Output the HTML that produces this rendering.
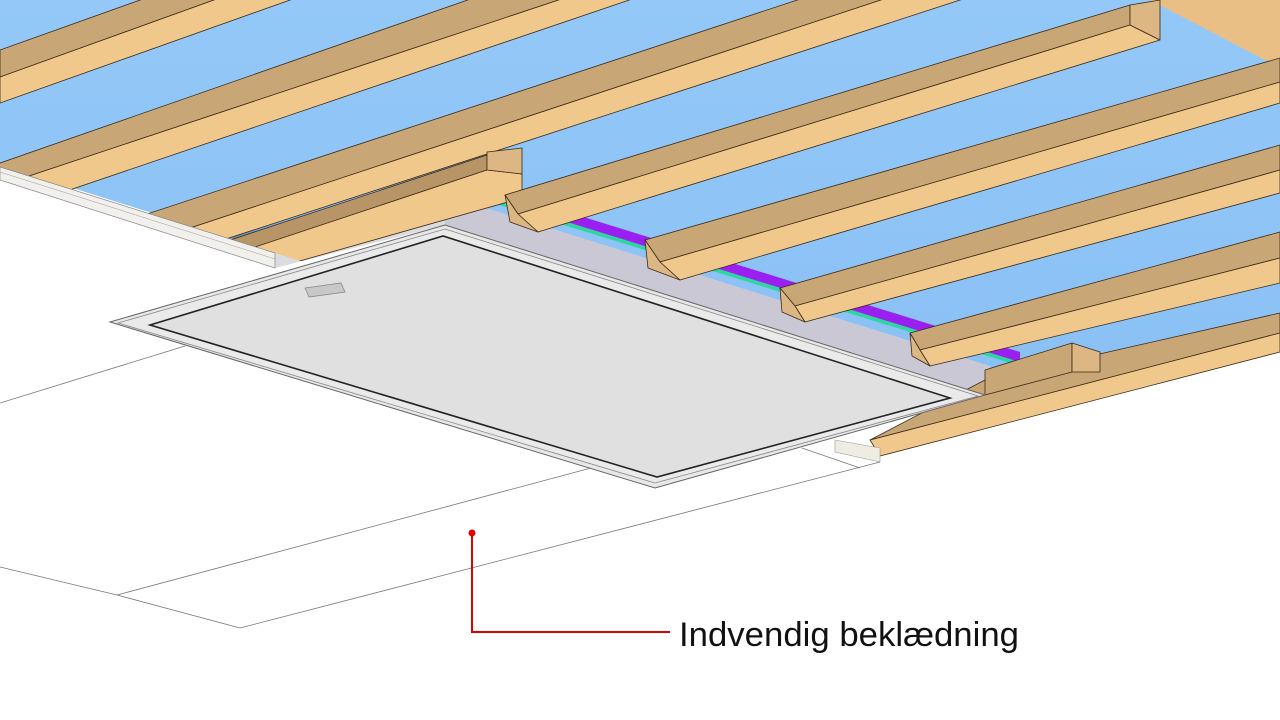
<!DOCTYPE html>
<html><head><meta charset="utf-8"><style>
html,body{margin:0;padding:0;background:#fff;width:1280px;height:720px;overflow:hidden}
svg{display:block}
</style></head><body>
<svg width="1280" height="720" viewBox="0 0 1280 720" xmlns="http://www.w3.org/2000/svg">
<defs>
<linearGradient id="bl" x1="0" y1="0" x2="0" y2="1"><stop offset="0" stop-color="#93c8f8"/><stop offset="1" stop-color="#88bff4"/></linearGradient>
<linearGradient id="sh" x1="0" y1="1" x2="0.3" y2="0"><stop offset="0" stop-color="#2a4f80" stop-opacity="0.8"/><stop offset="1" stop-color="#88bff4" stop-opacity="0"/></linearGradient>
<clipPath id="cl"><polygon points="0,-10 1300,-10 1300,574 0,167"/></clipPath>
</defs>
<!-- ceiling blue -->
<polygon points="0,0 1280,0 1280,352 880,456 985,398 445,200 275,252 0,165" fill="url(#bl)"/>
<!-- shadow near left wall -->
<polygon points="150,215 275,252 445,200 330,185" fill="url(#sh)"/>
<!-- purple strip & teal -->
<polygon points="470,182 1020,352 1020,364 470,194" fill="#9b1ff0"/>
<polygon points="470,192 1020,362 1020,366 470,196" fill="#2fd6a0"/>
<!-- opening walls -->
<polygon points="445,195 990,366 985,400 445,225" fill="#cac8d4"/>
<polygon points="275,250 445,197 445,225 275,268" fill="#dcdbe0"/>
<!-- top-right wall block -->
<polygon points="1150,0 1280,0 1280,65 1265,60" fill="#e9bf86"/>
<g stroke="#3a2a1a" stroke-width="0.8" stroke-linejoin="round">
<g clip-path="url(#cl)">
<!-- A -->
<polygon points="0,50 300,-57 300,-31 0,77" fill="#c9a676"/>
<polygon points="0,77 300,-31 300,-3.5 0,103" fill="#f1c88b"/>
<!-- B -->
<polygon points="-10,166.5 700,-81 700,-47 -10,189" fill="#c9a676"/>
<polygon points="-10,189 700,-47 700,-24 -10,217" fill="#f1c88b"/>
<!-- C -->
<polygon points="100,229.5 1000,-66.7 1000,-39.3 100,257.7" fill="#c9a676"/>
<polygon points="100,257.7 1000,-39.3 1000,-13 100,280" fill="#f1c88b"/>
<!-- notch piece -->
<polygon points="200,250 487,155 487,170 210,262" fill="#b89566"/>
<polygon points="210,262 487,170 522,174 522,198 275,268" fill="#f1c88b"/>
<polygon points="487,152 522,148 522,174 487,170" fill="#dcb784"/>
</g>
<!-- R1 -->
<polygon points="505,195 1130,5 1130,25 518,214" fill="#c9a676"/>
<polygon points="518,214 1130,25 1160,40 538,232" fill="#f1c88b"/>
<polygon points="1130,5 1160,0 1160,40 1130,25" fill="#dcb784"/>
<polygon points="505,195 518,214 538,232 510,222" fill="#dcb784"/>
<!-- R2 -->
<polygon points="645,240 1280,58 1280,82 660,262" fill="#c9a676"/>
<polygon points="660,262 1280,82 1280,103 680,280" fill="#f1c88b"/>
<polygon points="645,240 660,262 680,280 648,268" fill="#dcb784"/>
<!-- R3 -->
<polygon points="780,288 1280,145 1280,170 795,306" fill="#c9a676"/>
<polygon points="795,306 1280,170 1280,193 805,322" fill="#f1c88b"/>
<polygon points="780,288 795,306 805,322 782,312" fill="#dcb784"/>
<!-- R4 -->
<polygon points="910,333 1280,232 1280,258 920,350" fill="#c9a676"/>
<polygon points="920,350 1280,258 1280,283 930,366" fill="#f1c88b"/>
<polygon points="910,333 920,350 930,366 912,356" fill="#dcb784"/>
<!-- bottom long batten -->
<polygon points="985,380 1280,313 1280,333 870,440" fill="#c9a676"/>
<polygon points="870,440 1280,333 1280,352 880,456" fill="#f1c88b"/>
<!-- short piece -->
<polygon points="985,370 1072,343 1072,372 985,395" fill="#c9a676"/>
<polygon points="1072,343 1100,352 1100,372 1072,372" fill="#dcb784"/>
</g>
<!-- small end block near right -->
<polygon points="835,440 880,448 880,462 835,452" fill="#efece4" stroke="#999" stroke-width="0.6"/>
<!-- left ceiling board edge -->
<polygon points="0,167 275,253 275,268 0,180" fill="#f1f0ec" stroke="#888" stroke-width="0.7"/>
<line x1="0" y1="172" x2="275" y2="259" stroke="#aaa" stroke-width="0.6"/>
<!-- hatch panel -->
<polygon points="110,322 445,225 985,395 655,488" fill="#e8e8e8" stroke="#666" stroke-width="1"/>
<polygon points="118,323 445,229 978,396 655,483" fill="#eaeaea" stroke="#888" stroke-width="0.8"/>
<polygon points="150,325 443,236 950,398 657,477" fill="#e0e0e0" stroke="#222" stroke-width="1.6"/>
<polygon points="305,288 341,283 345,292 309,297" fill="#c8c8c8" stroke="#888" stroke-width="0.8"/>
<!-- floor lines -->
<g stroke="#777" stroke-width="0.8" fill="none">
<line x1="0" y1="403" x2="185" y2="346"/>
<line x1="0" y1="567" x2="117" y2="595"/>
<line x1="117" y1="595" x2="591" y2="468"/>
<line x1="117" y1="595" x2="240" y2="628"/>
<line x1="240" y1="628" x2="880" y2="462"/>
<line x1="802" y1="448" x2="860" y2="468"/>
</g>
<!-- leader -->
<circle cx="472" cy="533" r="3.5" fill="#e00000"/>
<polyline points="472,533 472,632 670,632" fill="none" stroke="#e00000" stroke-width="2"/>
<text x="679" y="646" font-family="Liberation Sans, sans-serif" font-size="34" fill="#111" textLength="340" lengthAdjust="spacingAndGlyphs">Indvendig beklædning</text>
</svg>
</body></html>
